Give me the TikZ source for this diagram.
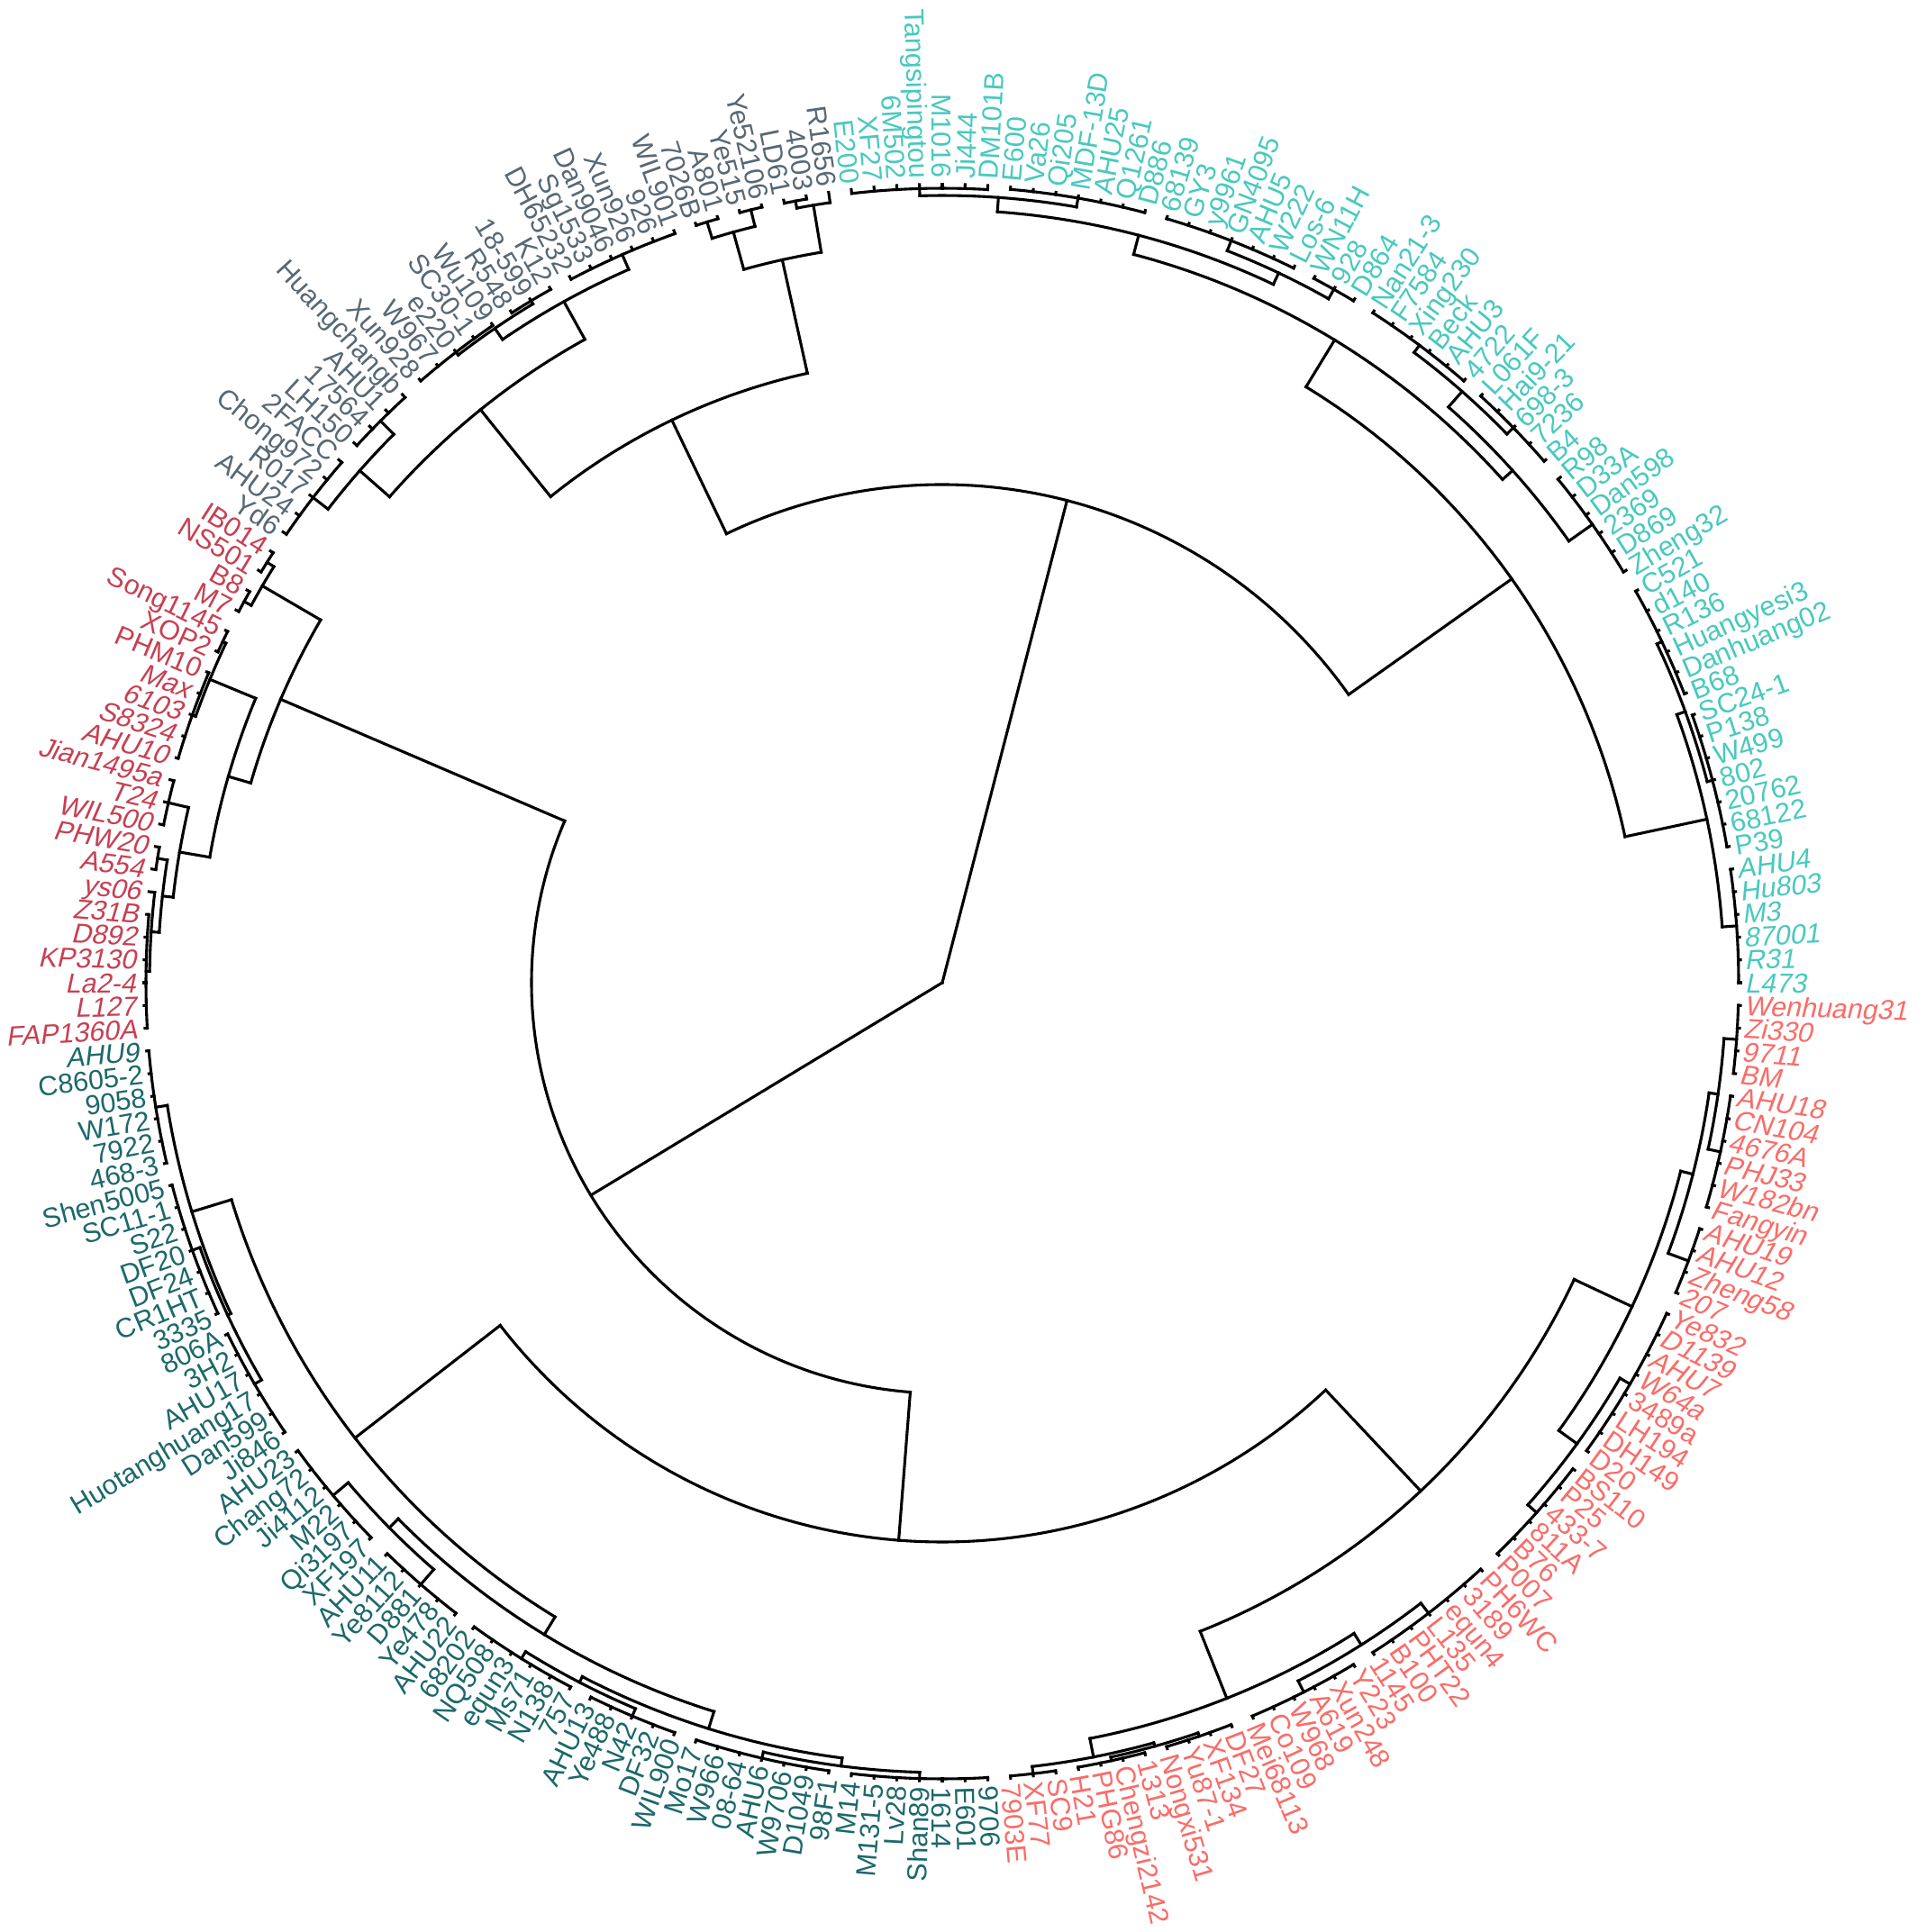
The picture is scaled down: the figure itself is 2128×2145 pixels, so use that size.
\documentclass[tikz,border=0pt]{standalone}
\usepackage{fontspec}
\setmainfont{Liberation Sans}
\definecolor{cy}{RGB}{72,201,190}
\definecolor{gy}{RGB}{88,104,116}
\definecolor{rd}{RGB}{199,64,82}
\definecolor{tl}{RGB}{28,104,106}
\definecolor{sm}{RGB}{250,108,104}
\def\s{1.6363636}
\def\tip{886.5}
\newcommand\seg[3]{\draw[tree] (#1:#2) -- (#1:#3);}
\newcommand\ar[3]{\draw[tree] (#2:#1) arc[start angle=#2,end angle=#3,radius=#1pt];}
% node: angle, r parent, r, arc from, arc to
\newcommand\nd[5]{\seg{#1}{#2}{#3}\ar{#3}{#4}{#5}}
\newcommand\lfseg[2]{\pgfmathsetmacro\kk{#1*\s}\seg{\kk}{#2}{\tip}}
% group of leaves: r parent, r, first, last
\newcommand\grp[4]{%
  \pgfmathsetmacro\ga{#3*\s}\pgfmathsetmacro\gb{#4*\s}\pgfmathsetmacro\gm{(#3+#4)/2*\s}%
  \seg{\gm}{#1}{#2}\ar{#2}{\ga}{\gb}%
  \foreach \k in {#3,...,#4}{\pgfmathsetmacro\kk{\k*\s}\seg{\kk}{#2}{\tip}}%
}
\begin{document}
\begin{tikzpicture}[x=1pt,y=1pt,
  tree/.style={line width=3.1pt,line cap=rect,black},
  lab/.style={font=\fontsize{30.5}{30.5}\selectfont,inner sep=0pt,text height=22pt,text depth=0pt}]
\fill[white] (-1046,-1054) rectangle (1082,1091);
\useasboundingbox (-1046,-1054) rectangle (1082,1091);
% ================= A (gray + cyan)
\nd{75.5}{0}{553}{35.34}{115.67}
% ---- cyan
\nd{35.34}{553}{775}{12.07}{58.6}
\nd{12.07}{775}{868}{4.09}{20.05}
\grp{868}{884}{0}{5}
\nd{20.05}{868}{878}{14.73}{25.36}
\grp{878}{884}{6}{12}
\grp{878}{884}{13}{18}
\nd{58.6}{775}{836}{41.93}{75.28}
\nd{41.93}{836}{851}{35.18}{48.68}
\grp{851}{883}{19}{24}
\nd{48.68}{851}{874}{44.18}{53.18}
\grp{874}{884}{25}{29}
\grp{874}{884}{30}{35}
\nd{75.28}{836}{858}{64.64}{85.91}
\nd{64.64}{858}{872}{60.55}{68.73}
\grp{872}{884}{36}{38}
\grp{872}{884}{39}{45}
\nd{85.91}{858}{874}{80.18}{91.64}
\grp{874}{884}{46}{52}
\grp{874}{882}{53}{59}
% ---- gray
\nd{115.67}{553}{693}{102.48}{128.86}
\nd{102.48}{693}{822}{99.41}{105.55}
\nd{99.41}{822}{875}{98.18}{100.64}
\lfseg{60}{875}
\grp{875}{883}{61}{62}
\nd{105.55}{822}{865}{103.91}{107.18}
\grp{865}{884}{63}{64}
\grp{865}{884}{65}{66}
\nd{128.86}{693}{817}{119.05}{138.68}
\nd{119.05}{817}{865}{113.73}{124.36}
\grp{865}{883}{67}{72}
\nd{124.36}{865}{880}{121.09}{127.64}
\grp{880}{884}{73}{75}
\grp{880}{884}{76}{80}
\nd{138.68}{817}{861}{135.0}{142.36}
\grp{861}{882}{81}{84}
\grp{861}{882}{85}{89}
% ================= B (red + teal + salmon)
\nd{211.17}{0}{456}{156.81}{265.53}
% ---- red
\nd{156.81}{456}{799}{149.73}{163.89}
\nd{149.73}{799}{874}{148.09}{151.36}
\grp{874}{883}{90}{91}
\grp{874}{883}{92}{93}
\nd{163.89}{799}{825}{157.5}{170.28}
\nd{157.5}{825}{880}{154.64}{160.36}
\grp{880}{884}{94}{95}
\grp{880}{884}{96}{100}
\nd{170.28}{825}{859}{166.91}{173.66}
\grp{859}{882}{101}{103}
\nd{173.66}{859}{871}{171.0}{176.32}
\grp{871}{882}{104}{105}
\nd{176.32}{871}{880}{173.45}{179.18}
\lfseg{106}{880}
\grp{880}{884}{107}{112}
% ---- teal + salmon
\nd{265.53}{456}{621}{217.79}{313.26}
% teal
\nd{217.79}{621}{825}{196.98}{238.6}
\nd{196.98}{825}{871}{189.0}{204.95}
\grp{871}{884}{113}{118}
\nd{204.95}{871}{875}{199.64}{210.27}
\grp{875}{884}{119}{125}
\grp{875}{884}{126}{131}
\nd{238.6}{825}{848}{224.59}{252.61}
\nd{224.59}{848}{862}{220.09}{229.09}
\grp{862}{884}{132}{137}
\grp{862}{884}{138}{142}
\nd{252.61}{848}{868}{242.59}{262.64}
\nd{242.59}{868}{875}{238.09}{247.09}
\grp{875}{884}{143}{148}
\grp{875}{884}{149}{153}
\nd{262.64}{868}{877}{256.91}{268.36}
\grp{877}{884}{154}{160}
\grp{877}{884}{161}{167}
% salmon
\nd{313.26}{621}{775}{291.68}{334.84}
\nd{291.68}{775}{855}{281.05}{302.32}
\nd{281.05}{855}{876}{276.55}{285.55}
\grp{876}{884}{168}{170}
\nd{285.55}{876}{880}{282.27}{288.82}
\grp{880}{884}{171}{174}
\grp{880}{884}{175}{178}
\nd{302.32}{855}{870}{297.0}{307.64}
\grp{870}{884}{179}{184}
\grp{870}{884}{185}{191}
\nd{334.84}{775}{846}{324.0}{345.68}
\nd{324.0}{846}{871}{318.27}{329.73}
\grp{871}{884}{192}{197}
\grp{871}{884}{198}{205}
\nd{345.68}{846}{860}{339.55}{351.82}
\grp{860}{884}{206}{209}
\nd{351.82}{860}{870}{347.73}{355.91}
\grp{870}{884}{210}{215}
\grp{870}{884}{216}{219}
% ================= labels
\foreach \i/\n in {0/L473,1/R31,2/87001,3/M3,4/Hu803,5/AHU4,6/P39,7/68122,8/20762,9/802,10/W499,11/P138,12/SC24-1,13/B68,14/Danhuang02,15/Huangyesi3,16/R136,17/d140,18/C521,19/Zheng32,20/D869,21/2369,22/Dan598,23/D33A,24/R98,25/B4,26/7236,27/698-3,28/Hai9-21,29/L061F,30/4722,31/AHU3,32/Beck,33/Xing230,34/F7584,35/Nan21-3,36/D864,37/928,38/WN11H,39/Los-6,40/W222,41/AHU5,42/GN4095,43/y9961,44/GY3,45/68139,46/D886,47/Q1261,48/AHU25,49/MDF-13D,50/Qi205,51/Va26,52/E600,53/DM101B,54/Ji444,55/M1016,56/Tangsipingtou,57/6M502,58/XF27,59/E200,60/R1656,61/4003,62/LD61,63/Ye52106,64/Ye515,65/A801,66/7026B,67/WIL901,68/926,69/Xun926,70/Dan9046,71/Sg1533,72/DH65232,73/K12,74/18-599,75/R548,76/Wu109,77/SC30-1,78/e220,79/W967,80/Xun928,81/Huangchangb,82/AHU1,83/17564,84/LH150,85/2FACC,86/Chong972,87/R017,88/AHU24,89/Yd6,90/IB014,91/NS501,92/B8,93/M7,94/Song1145,95/XOP2,96/PHM10,97/Max,98/6103,99/S8324,100/AHU10,101/Jian1495a,102/T24,103/WIL500,104/PHW20,105/A554,106/ys06,107/Z31B,108/D892,109/KP3130,110/La2-4,111/L127,112/FAP1360A,113/AHU9,114/C8605-2,115/9058,116/W172,117/7922,118/468-3,119/Shen5005,120/SC11-1,121/S22,122/DF20,123/DF24,124/CR1HT,125/3335,126/806A,127/3H2,128/AHU17,129/Huotanghuang17,130/Dan599,131/Ji846,132/AHU23,133/Chang72,134/Ji4112,135/M22,136/Qi3197,137/XF197,138/AHU11,139/Ye8112,140/D881,141/Ye478,142/AHU22,143/68202,144/NQ508,145/equn3,146/Ms71,147/N138,148/757,149/AHU13,150/Ye488,151/N42,152/DF32,153/WIL900,154/Mo17,155/W966,156/08-64,157/AHU6,158/W9706,159/D1049,160/98F1,161/M14,162/M131-5,163/Lv28,164/Shan89,165/1614,166/E601,167/9706,168/7903E,169/XF77,170/SC9,171/H21,172/PHG86,173/Chengzi2142,174/1313,175/Nongxi531,176/Yu87-1,177/XF134,178/DF27,179/Mei68113,180/Co109,181/W968,182/A619,183/Xun248,184/Y223,185/1145,186/B100,187/PHT22,188/L135,189/equn4,190/3189,191/PH6WC,192/P007,193/B76,194/811A,195/433-7,196/P25,197/BS110,198/D20,199/DH149,200/LH194,201/3489a,202/W64a,203/AHU7,204/D1139,205/Ye832,206/207,207/Zheng58,208/AHU12,209/AHU19,210/Fangyin,211/W182bn,212/PHJ33,213/4676A,214/CN104,215/AHU18,216/BM,217/9711,218/Zi330,219/Wenhuang31}{
  \pgfmathsetmacro\a{\i*\s}
  \ifnum\i<60 \def\c{cy}\else\ifnum\i<90 \def\c{gy}\else\ifnum\i<113 \def\c{rd}\else\ifnum\i<168 \def\c{tl}\else\def\c{sm}\fi\fi\fi\fi
  \def\sl{0}
  \ifnum\i<6 \def\sl{0.21}\fi
  \ifnum\i>96 \ifnum\i<114 \def\sl{0.21}\fi\fi
  \ifnum\i>201 \def\sl{0.21}\fi
  \ifdim\a pt>90pt
    \ifdim\a pt<270pt
      \pgfmathsetmacro\b{\a-180}
      \node[lab,text=\c,anchor=east,rotate=\b,xslant=\sl] (L\i) at (\a:893) {\n};
    \else
      \node[lab,text=\c,anchor=west,rotate=\a,xslant=\sl] (L\i) at (\a:893) {\n};
    \fi
  \else
    \node[lab,text=\c,anchor=west,rotate=\a,xslant=\sl] (L\i) at (\a:893) {\n};
  \fi
}
\end{tikzpicture}
\end{document}
